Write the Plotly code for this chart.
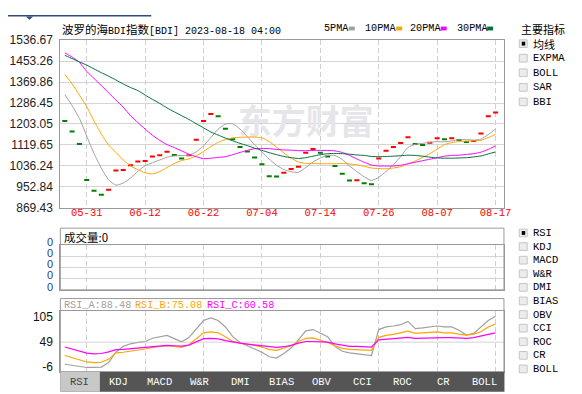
import plotly.graph_objects as go

W, H = 582, 394


def px_x(p):
    return p / W


def px_y(p):
    return 1 - p / H


# ---------------- data ----------------
dates = ["05-25", "05-26", "05-30", "05-31",
         "06-01", "06-02", "06-05", "06-06", "06-07", "06-08", "06-09", "06-12",
         "06-13", "06-14", "06-15", "06-16", "06-19", "06-20", "06-21", "06-22",
         "06-23", "06-26", "06-27", "06-28", "06-29", "06-30", "07-03", "07-04",
         "07-05", "07-06", "07-07", "07-10", "07-11", "07-12", "07-13", "07-14",
         "07-17", "07-18", "07-19", "07-20", "07-21", "07-24", "07-25", "07-26",
         "07-27", "07-28", "07-31", "08-01", "08-02", "08-03", "08-04", "08-07",
         "08-08", "08-09", "08-10", "08-11", "08-14", "08-15", "08-16", "08-17"]
tick_dates = ["05-31", "06-12", "06-22", "07-04", "07-14", "07-26", "08-07", "08-17"]

close = [1215, 1173, 1123, 980, 938, 922, 942, 1018, 1020, 1039,
         1054, 1056, 1074, 1079, 1093, 1080, 1066, 1079, 1140, 1215,
         1243, 1234, 1184, 1142, 1112, 1094, 1070, 1043, 995, 994,
         1009, 1024, 1033, 1089, 1104, 1089, 1074, 1036, 1005, 978,
         979, 967, 963, 1066, 1097, 1112, 1127, 1150, 1123, 1120,
         1128, 1146, 1142, 1146, 1139, 1131, 1135, 1165, 1234, 1249]
prior_close = 1284

ma5 = [1320, 1276, 1225, 1155, 1086, 1027, 981, 960, 968, 988,
       1015, 1037, 1049, 1060, 1071, 1076, 1078, 1079, 1092, 1116,
       1149, 1182, 1203, 1204, 1183, 1153, 1120, 1092, 1063, 1039,
       1022, 1013, 1011, 1030, 1052, 1068, 1078, 1078, 1062, 1036,
       1014, 993, 978, 991, 1014, 1041, 1073, 1110, 1122, 1126,
       1130, 1133, 1132, 1136, 1140, 1141, 1139, 1143, 1161, 1183]
ma10 = [1400, 1362, 1318, 1272, 1215, 1163, 1120, 1090, 1060, 1037,
        1021, 1009, 1004, 1014, 1030, 1046, 1058, 1064, 1076, 1094,
        1113, 1130, 1141, 1148, 1150, 1151, 1151, 1148, 1133, 1111,
        1088, 1067, 1052, 1046, 1046, 1045, 1045, 1045, 1046, 1044,
        1041, 1035, 1028, 1026, 1025, 1028, 1033, 1044, 1056, 1070,
        1085, 1103, 1121, 1129, 1133, 1135, 1136, 1138, 1149, 1162]
ma20 = [1486, 1469, 1448, 1412, 1384, 1356, 1327, 1298, 1270, 1236,
        1209, 1183, 1158, 1138, 1121, 1109, 1096, 1083, 1073, 1065,
        1067, 1070, 1073, 1081, 1090, 1098, 1105, 1106, 1105, 1102,
        1100, 1099, 1097, 1097, 1098, 1098, 1098, 1096, 1090, 1078,
        1064, 1051, 1040, 1036, 1036, 1036, 1039, 1045, 1051, 1057,
        1063, 1069, 1075, 1078, 1079, 1082, 1085, 1091, 1102, 1116]
ma30 = [1476, 1463, 1450, 1437, 1422, 1407, 1393, 1378, 1362, 1348,
        1336, 1318, 1301, 1285, 1267, 1251, 1236, 1221, 1204, 1188,
        1171, 1159, 1147, 1136, 1126, 1117, 1107, 1098, 1089, 1081,
        1074, 1069, 1066, 1069, 1075, 1081, 1085, 1086, 1085, 1083,
        1080, 1078, 1074, 1073, 1074, 1075, 1077, 1079, 1078, 1075,
        1071, 1068, 1067, 1067, 1068, 1069, 1072, 1076, 1084, 1092]

rsi_a = [0.6, -2.2, -5, -6.5, -6.5, -5.7, 4.2, 26.9, 39.7, 45.4,
         48.2, 50.4, 57.5, 60.3, 63.9, 56.7, 49.6, 58.9, 78.7, 96.5,
         102.2, 96.5, 82.3, 61, 48.2, 41.1, 34, 26.9, 17, 14.1,
         24.1, 36.2, 53.9, 73.8, 76.6, 69.5, 61, 39.7, 29, 25.5,
         24.1, 22.7, 19.8, 76.6, 82.3, 84.4, 87.3, 94.4, 78.8, 80.2,
         82.3, 84.4, 82.3, 82.3, 75.2, 64.6, 68.1, 82.3, 96.5, 105.7]
rsi_b = [19.8, 15.6, 9.9, 5.6, 4.2, 4.9, 11.3, 25.5, 26.9, 29,
         32.6, 34, 37.6, 39, 41.1, 39.7, 37.6, 43.3, 57.5, 69.5,
         71.7, 69.5, 61, 50.4, 46.8, 44.7, 41.8, 38.3, 32.6, 31.2,
         35.4, 41.1, 50.4, 57.5, 58.2, 53.9, 48.2, 41.1, 35.4, 33.3,
         32.6, 32.6, 31.2, 59.6, 63.8, 66, 68.8, 73.1, 68.1, 68.8,
         70.2, 71.7, 69.5, 69.5, 66.7, 64.6, 66.7, 71.7, 82.3, 88.7]
rsi_c = [38.3, 34, 29, 24.8, 23.4, 24.1, 27.6, 32.6, 33.3, 34.7,
         36.2, 37.6, 39, 40.4, 41.8, 41.1, 40.4, 42.5, 50.4, 56.7,
         57.5, 56, 52.5, 48.9, 46.8, 44.7, 42.5, 41.1, 38.3, 37.6,
         39, 41.8, 46.8, 50.4, 50.4, 49.6, 48.9, 45.4, 41.8, 39.7,
         39.7, 39.7, 38.3, 53.9, 55.3, 56, 57.5, 59.6, 57.5, 58.2,
         58.9, 58.9, 58.9, 58.9, 58.2, 57.5, 58.9, 61.7, 66, 69.5]

price_ticks = [1536.67, 1453.26, 1369.86, 1286.45, 1203.05, 1119.65, 1036.24, 952.84, 869.43]
rsi_ticks = [105, 49, -6]
rsi_last = {"RSI_A": 88.48, "RSI_B": 75.08, "RSI_C": 60.58}
volume_value = 0
volume_ticks = [0, 0, 0, 0, 0]
main_indicators = ["均线", "EXPMA", "BOLL", "SAR", "BBI"]
sub_indicators = ["RSI", "KDJ", "MACD", "W&R", "DMI", "BIAS", "OBV", "CCI", "ROC", "CR", "BOLL"]
tab_labels = ["RSI", "KDJ", "MACD", "W&R", "DMI", "BIAS", "OBV", "CCI", "ROC", "CR", "BOLL"]
title_parts = [("波罗的海", True), ("BDI", False), ("指数", True), ("[BDI] 2023-08-18 04:00", False)]

# ---------------- styles ----------------
UP, DOWN = "#ff0000", "#008000"
C5, C10, C20, C30 = "#a0a0a0", "#ffa500", "#ff00ff", "#00703c"
MONO = "Liberation Mono, Noto Sans CJK SC"
SANS = "Liberation Sans, Arial"
CJK = "Noto Sans CJK SC"
FRAME = "#9a9a9a"
GRID = "#d4d4d4"

prev = [prior_close] + close[:-1]
dash_colors = [UP if c >= p else DOWN for c, p in zip(close, prev)]

fig = go.Figure()

# watermark (under the data)
fig.add_trace(go.Scatter(x=[dates[33]], y=[1196], mode="text", text=["<b>东方财富</b>"],
                         textfont=dict(size=34, color="#e6e6ea", family=CJK),
                         hoverinfo="skip", showlegend=False, xaxis="x", yaxis="y"))

fig.add_trace(go.Scatter(x=dates, y=close, mode="markers",
                         marker=dict(symbol="line-ew", size=3.6, color=dash_colors,
                                     line=dict(color=dash_colors, width=2)),
                         showlegend=False, xaxis="x", yaxis="y"))

for vals, col in [(ma5, C5), (ma10, C10), (ma20, C20), (ma30, C30)]:
    fig.add_trace(go.Scatter(x=dates, y=vals, mode="lines",
                             line=dict(color=col, width=1, shape="spline", smoothing=0.5),
                             showlegend=False, xaxis="x", yaxis="y"))

for vals, col in [(rsi_a, C5), (rsi_b, C10), (rsi_c, C20)]:
    fig.add_trace(go.Scatter(x=dates, y=vals, mode="lines",
                             line=dict(color=col, width=1.2),
                             showlegend=False, xaxis="x3", yaxis="y3"))

# keep an empty trace on the volume axes so they are drawn
fig.add_trace(go.Scatter(x=dates, y=[None] * len(dates), mode="lines", showlegend=False,
                         xaxis="x2", yaxis="y2"))

xdom = [px_x(53), px_x(502)]
xrange = [-0.61, 60.15]

common_x = dict(domain=xdom, type="category", categoryorder="array", categoryarray=dates,
                range=xrange, tickvals=tick_dates, showgrid=True, gridcolor="#cfcfcf",
                griddash="5px,3px", gridwidth=1, showline=True, linecolor=FRAME, linewidth=1,
                mirror=True, zeroline=False, ticks="", fixedrange=True)

fig.update_layout(
    width=W, height=H, margin=dict(l=0, r=0, t=0, b=0),
    paper_bgcolor="white", plot_bgcolor="white", showlegend=False,
    xaxis=dict(common_x, anchor="y", ticktext=tick_dates, ticklabelstandoff=-5,
               tickfont=dict(family=MONO, size=10.5, color="#ff0000")),
    yaxis=dict(domain=[px_y(200), px_y(26)], range=[869.43, 1536.67], tickvals=price_ticks,
               ticktext=[f"{v:.2f}" for v in price_ticks], showgrid=True, gridcolor=GRID,
               showline=True, linecolor=FRAME, mirror=True, zeroline=False, ticks="",
               ticklabelstandoff=4,
               tickfont=dict(family=SANS, size=12, color="#222222"), anchor="x"),
    xaxis2=dict(common_x, anchor="y2", matches="x", showticklabels=False),
    yaxis2=dict(domain=[px_y(285), px_y(238.3)], range=[0, 4], tickvals=[1, 2, 3],
                showticklabels=False, showgrid=True, gridcolor=GRID, showline=True,
                linecolor=FRAME, mirror=True, zeroline=False, ticks="", anchor="x2"),
    xaxis3=dict(common_x, anchor="y3", matches="x", showticklabels=False),
    yaxis3=dict(domain=[px_y(370), px_y(307)], range=[-16.1, 117.1], tickvals=rsi_ticks,
                ticktext=[str(v) for v in rsi_ticks], showgrid=False, showline=True,
                linecolor=FRAME, mirror=True, zeroline=False, ticks="", ticklabelstandoff=4,
                tickfont=dict(family=SANS, size=12, color="#111111"), anchor="x3"),
)

shapes = []
ann = []


def rect(x0, y0, x1, y1, fill=None, line=None, lw=1, layer="above"):
    shapes.append(dict(type="rect", xref="paper", yref="paper",
                       x0=px_x(x0), x1=px_x(x1), y0=px_y(y1), y1=px_y(y0),
                       fillcolor=fill if fill else "rgba(0,0,0,0)",
                       line=dict(color=line if line else "rgba(0,0,0,0)", width=lw if line else 0),
                       layer=layer))


def text(x, y, s, size=10.5, color="#000", family=MONO, xanchor="left"):
    ann.append(dict(x=px_x(x), y=px_y(y), xref="paper", yref="paper", text=s, showarrow=False,
                    xanchor=xanchor, yanchor="middle", font=dict(size=size, color=color, family=family)))


# top-left blue tab fragment
rect(0, 0, 145, 1.6, fill="#2e4b7c")
shapes.append(dict(type="path", xref="paper", yref="paper",
                   path=f"M {px_x(18)} {px_y(1.5)} L {px_x(25.5)} {px_y(1.5)} L {px_x(21.75)} {px_y(5)} Z",
                   fillcolor="#2e4b7c", line=dict(width=0)))

# title + MA legend
title_html = "".join(
    f"<span style='font-size:11.5px;font-family:Noto Sans CJK SC'>{s}</span>" if is_cjk else s
    for s, is_cjk in title_parts)
text(53, 14, title_html, size=10)
leg_items = [("5PMA", 318, C5, 345), ("10PMA", 359, C10, 393), ("20PMA", 405, C20, 438), ("30PMA", 452, C30, 485)]
for lab, tx, col, rx in leg_items:
    text(tx, 14, lab, size=10.2)
    rect(rx, 12, rx + 6, 16, fill=col)

# RSI line at 49 (grid)
shapes.append(dict(type="line", xref="x3", yref="y3", x0=xrange[0], x1=xrange[1], y0=49, y1=49,
                   line=dict(color=GRID, width=1), layer="below"))

# volume panel frame incl. header row
rect(53, 221, 502, 285, line=FRAME)
text(55, 230, f"成交量:{volume_value}", size=11.5, family=CJK)
for yy, v in zip([235, 246.7, 258.3, 270, 281.7], volume_ticks):
    text(48, yy, str(v), size=11, color="#24407a", family=SANS, xanchor="right")

# RSI panel frame + header
rect(53, 294, 502, 370, line=FRAME)
text(55, 301, f"RSI_A:{rsi_last['RSI_A']:.2f}", color=C5, size=10.2)
text(127, 301, f"RSI_B:{rsi_last['RSI_B']:.2f}", color=C10, size=10.2)
text(199, 301, f"RSI_C:{rsi_last['RSI_C']:.2f}", color=C20, size=10.2)

# tab bar
rect(53, 370, 502.5, 390.7, fill="#555555")
rect(53, 370, 93, 390.7, fill="#c8c8c8")
tab_centers = [72, 112, 153, 194, 235.5, 276.7, 317.5, 358.7, 399.5, 441, 482]
for i, (lab, cx) in enumerate(zip(tab_labels, tab_centers)):
    text(cx, 380.5, lab, size=10.5, color="#444" if i == 0 else "#ffffff", xanchor="center")


# right-side indicator lists
def checkbox(y, checked):
    rect(517.5, y - 4, 525.5, y + 4, fill="#ececec", line="#c6c6c6")
    if checked:
        rect(520, y - 2, 523.5, y + 2, fill="#000000")


text(517, 14, "主要指标", size=11, family=CJK)
for k, lab in enumerate(main_indicators):
    yy = 29.7 + 15.1 * k
    checkbox(yy, k == 0)
    text(529, yy, lab, size=11 if k == 0 else 10.5, family=CJK if k == 0 else MONO)

for k, lab in enumerate(sub_indicators):
    yy = 226 + 14.1 * k
    checkbox(yy, k == 0)
    text(529, yy, lab, size=10.5)

fig.update_layout(shapes=shapes, annotations=ann)
fig.write_html("out.html")
